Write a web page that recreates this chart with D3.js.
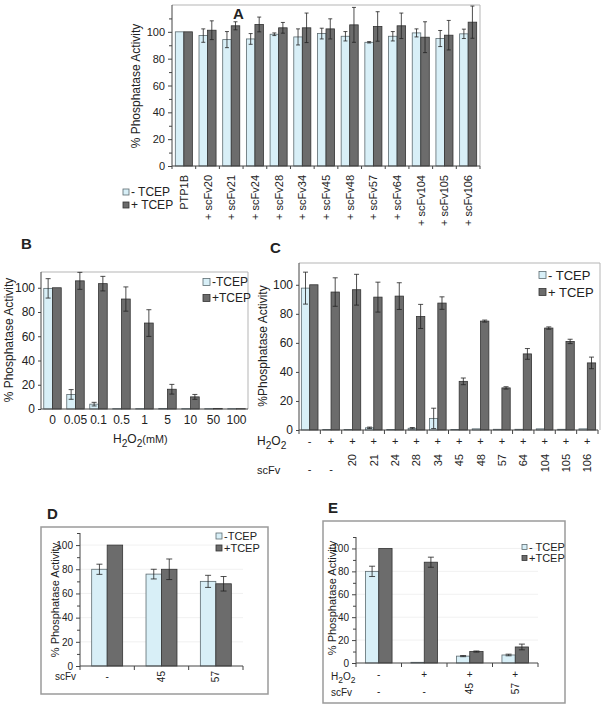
<!DOCTYPE html>
<html><head><meta charset="utf-8">
<script src="https://cdn.jsdelivr.net/npm/d3@7"></script>
<style>
body{margin:0;background:#fff}
svg{display:block}
text{font-family:"Liberation Sans",Arial,sans-serif;fill:#222}
</style>
</head><body>
<svg id="fig" width="605" height="707"></svg>
<script>
// ---------- Panel A data ----------
const aCats = ["PTP1B","+ scFv20","+ scFv21","+ scFv24","+ scFv28","+ scFv34","+ scFv45","+ scFv48","+ scFv57","+ scFv64","+ scFv104","+ scFv105","+ scFv106"];
const aMinus = [100,97.2,94.2,94.7,98.2,96.2,98.7,96.7,92.2,96.7,99.2,95,98.5];
const aMinusErr = [0,5,6,4,1,6,4,3.5,0.5,3.5,3,6,3.5];
const aPlus = [100,101.2,104.5,105.5,103,103,102.2,105.2,104,104.5,96,97.5,107.2];
const aPlusErr = [0,7,3,5.5,4,11,7.5,13,11,9.5,11.5,11,12];
const aTicks = [0,20,40,60,80,100];

// ---------- Panel B data ----------
const bCats = ["0","0.05","0.1","0.5","1","5","10","50","100"];
const bMinus = [99.5,12,4,0.3,0.3,0.5,0.3,0.3,0.3];
const bMinusErr = [8,4,1.5,0,0,0,0,0,0];
const bPlus = [100,105.7,103.4,90.7,70.9,16.3,10,0.5,0.3];
const bPlusErr = [0,7,6,10,11,4,2,0,0];
const bTicks = [0,20,40,60,80,100];

// ---------- Panel C data ----------
const cH2O2 = ["-","+","+","+","+","+","+","+","+","+","+","+","+","+"];
const cScfv = ["-","-","20","21","24","28","34","45","48","57","64","104","105","106"];
const cMinus = [97.7,0.3,0.3,1.5,0.3,1.2,8,0.3,0.8,0.5,0.5,0.8,0.5,0.8];
const cMinusErr = [11,0,0,0.5,0,0.5,7,0,0,0,0,0,0,0];
const cPlus = [100,95,96.6,91.5,92.2,78.2,87.4,33.5,75,29,52.4,70.2,61,46.2];
const cPlusErr = [0,9.8,10.6,10.3,9.2,8.3,4.3,2.3,0.7,0.8,3.7,0.8,1.5,4];
const cTicks = [0,20,40,60,80,100];

// ---------- Panel D data ----------
const dScfv = ["-","45","57"];
const dMinus = [80,76,70];
const dMinusErr = [4.2,4,5];
const dPlus = [100,80,68];
const dPlusErr = [0,8.5,6];
const dTicks = [0,20,40,60,80,100];

// ---------- Panel E data ----------
const eH2O2 = ["-","+","+","+"];
const eScfv = ["-","-","45","57"];
const eMinus = [80,0.6,6,7];
const eMinusErr = [4.5,0,0.5,0.7];
const ePlus = [100,88,10,14];
const ePlusErr = [0,4.4,0.5,2.5];
const eTicks = [0,20,40,60,80,100];

const legendLabels = {A:["- TCEP","+ TCEP"],B:["-TCEP","+TCEP"],C:["- TCEP","+ TCEP"],D:["-TCEP","+TCEP"],E:["- TCEP","+TCEP"]};

const LIGHT="#d8eff7", DARK="#6c6c6c", LSTROKE="#5d6b70", DSTROKE="#333";
const svg = d3.select("#fig");

function panel(o){
  const g = svg.append("g");
  const idx = d3.range(o.minus.length);
  const x = d3.scaleBand().domain(idx).range([o.x0,o.x1]).paddingInner(o.pad).paddingOuter(o.pad/2);
  const y = d3.scaleLinear().domain([0,o.ymax]).range([o.y0,o.y1]);
  if(o.box){
    g.append("path").attr("d",`M${o.x0},${o.y1}H${o.bx1}V${o.y0}`).attr("fill","none").attr("stroke","#b5b5b5").attr("stroke-width",1);
  }
  if(o.grid){
    g.selectAll(null).data(o.ticks.filter(t=>t>0)).join("line")
      .attr("x1",o.x0).attr("x2",o.x1).attr("y1",d=>y(d)).attr("y2",d=>y(d))
      .attr("stroke","#ededed").attr("stroke-width",0.8);
  }
  const bw = x.bandwidth()/2;
  const series = [[o.minus,o.minusErr,LIGHT,LSTROKE,0],[o.plus,o.plusErr,DARK,DSTROKE,1]];
  series.forEach(([vals,errs,fill,stroke,k])=>{
    g.selectAll(null).data(vals).join("rect")
      .attr("x",(d,i)=>x(i)+k*bw).attr("y",d=>y(d))
      .attr("width",bw).attr("height",d=>y(0)-y(d))
      .attr("fill",fill).attr("stroke",stroke).attr("stroke-width",0.8);
  });
  series.forEach(([vals,errs,fill,stroke,k])=>{
    const items = vals.map((v,i)=>({v,e:errs[i],i})).filter(d=>d.e>0);
    const cx = d=>x(d.i)+k*bw+bw/2;
    const cw = o.cap;
    g.selectAll(null).data(items).join("path")
      .attr("d",d=>`M${cx(d)},${y(d.v-d.e)}V${y(d.v+d.e)}M${cx(d)-cw},${y(d.v+d.e)}H${cx(d)+cw}M${cx(d)-cw},${y(d.v-d.e)}H${cx(d)+cw}`)
      .attr("stroke","#222").attr("stroke-width",0.8).attr("fill","none");
  });
  const ax = g.append("g").attr("transform",`translate(${o.x0},0)`)
    .call(d3.axisLeft(y).tickValues(o.ticks).tickSize(o.tick).tickSizeOuter(0).tickPadding(o.tpad||3));
  ax.select(".domain").remove();
  ax.selectAll("text").style("font-size",o.fs+"px").attr("fill","#222");
  ax.selectAll("line").attr("stroke","#444");
  if(o.minor){
    g.append("g").attr("transform",`translate(${o.x0},0)`)
      .call(d3.axisLeft(y).tickValues(d3.range(10,o.ymax+0.1,20)).tickSize(o.tick-1).tickFormat(""))
      .call(s=>{s.select(".domain").remove();s.selectAll("line").attr("stroke","#444");});
  }
  g.append("line").attr("x1",o.x0).attr("x2",o.x0).attr("y1",y(0)).attr("y2",o.y1).attr("stroke","#444");
  g.append("line").attr("x1",o.x0).attr("x2",o.x1).attr("y1",y(0)).attr("y2",y(0)).attr("stroke","#444");
  if(o.xticks){
    g.selectAll(null).data(d3.range(o.minus.length+1)).join("line")
      .attr("x1",i=>o.x0+i*x.step()).attr("x2",i=>o.x0+i*x.step())
      .attr("y1",y(0)).attr("y2",y(0)+o.xticks).attr("stroke","#444");
  }
  g.append("text").attr("transform",`translate(${o.ylx},${o.yly}) rotate(-90)`)
    .attr("text-anchor","middle").style("font-size",o.ylfs+"px").text(o.ylabel);
  o.leg.forEach((lab,k)=>{
    const ly = o.legy[k];
    g.append("rect").attr("x",o.legx).attr("y",ly-o.legs/2).attr("width",o.legs).attr("height",o.legs)
      .attr("fill",k?DARK:LIGHT).attr("stroke",k?DSTROKE:LSTROKE).attr("stroke-width",0.8);
    g.append("text").attr("x",o.legx+o.legs+2).attr("y",ly).attr("dy","0.36em")
      .style("font-size",o.legfs+"px").text(lab);
  });
  g.append("text").attr("x",o.lx).attr("y",o.ly).style("font-size","15px").style("font-weight","bold").text(o.letter);
  return {g,x,y};
}

function h2o2(sel,x,y,fs,suffix){
  const t = sel.append("text").attr("x",x).attr("y",y).style("font-size",fs+"px");
  t.append("tspan").text("H");
  t.append("tspan").attr("dy",fs*0.3).style("font-size",(fs*0.85)+"px").text("2");
  t.append("tspan").attr("dy",-fs*0.3).text("O");
  t.append("tspan").attr("dy",fs*0.3).style("font-size",(fs*0.85)+"px").text("2");
  if(suffix) t.append("tspan").attr("dy",-fs*0.3).style("font-size",(fs*0.9)+"px").text(suffix);
  return t;
}

// ===== Panel A =====
{
  const r = panel({letter:"A",lx:233,ly:19,minus:aMinus,minusErr:aMinusErr,plus:aPlus,plusErr:aPlusErr,
    x0:172,x1:480,bx1:480,y0:166,y1:5,ymax:120,pad:0.28,ticks:aTicks,minor:true,tick:4,fs:11,cap:2,
    box:true,xticks:3,ylabel:"% Phosphatase Activity",ylx:140,yly:86,ylfs:12,
    leg:legendLabels.A,legx:123,legy:[192,205],legs:6,legfs:12});
  r.g.selectAll(null).data(aCats).join("text")
    .attr("transform",(d,i)=>`translate(${r.x(i)+r.x.bandwidth()/2+4},175) rotate(-90)`)
    .attr("text-anchor","end").style("font-size","11px").text(d=>d);
}
// ===== Panel B =====
{
  const r = panel({letter:"B",lx:21,ly:249,minus:bMinus,minusErr:bMinusErr,plus:bPlus,plusErr:bPlusErr,
    x0:41,x1:248,bx1:248,y0:409,y1:272,ymax:113,pad:0.24,ticks:bTicks,minor:false,tick:3,fs:12,cap:2.5,
    box:true,ylabel:"% Phosphatase Activity",ylx:13,yly:340,ylfs:12,
    leg:legendLabels.B,legx:203,legy:[282,298],legs:7,legfs:12});
  r.g.selectAll(null).data(bCats).join("text")
    .attr("x",(d,i)=>r.x(i)+r.x.bandwidth()/2).attr("y",424).attr("text-anchor","middle")
    .style("font-size","12px").text(d=>d);
  h2o2(r.g,113,443,12,"(mM)");
}
// ===== Panel C =====
{
  const r = panel({letter:"C",lx:270,ly:253,minus:cMinus,minusErr:cMinusErr,plus:cPlus,plusErr:cPlusErr,
    x0:299,x1:598,bx1:600,y0:430,y1:263,ymax:115,pad:0.22,ticks:cTicks,minor:false,tick:3,fs:12,cap:2.5,
    box:true,xticks:4,ylabel:"%Phosphatase Activity",ylx:267,yly:346,ylfs:12,
    leg:legendLabels.C,legx:539,legy:[275,292],legs:7,legfs:13});
  const cx = i=>r.x(i)+r.x.bandwidth()/2;
  h2o2(r.g,257,445,12);
  r.g.append("text").attr("x",257).attr("y",474).style("font-size","11px").text("scFv");
  r.g.selectAll(null).data(cH2O2).join("text").attr("x",(d,i)=>cx(i)).attr("y",445)
    .attr("text-anchor","middle").style("font-size","11px").text(d=>d);
  r.g.selectAll(null).data(cScfv).join("text")
    .attr("transform",(d,i)=>d==="-"?`translate(${cx(i)},473)`:`translate(${cx(i)+4},454) rotate(-90)`)
    .attr("text-anchor",d=>d==="-"?"middle":"end").style("font-size","11px").text(d=>d);
}
// ===== Panel D =====
{
  svg.append("rect").attr("x",41).attr("y",527).attr("width",227).attr("height",167)
    .attr("fill","none").attr("stroke","#9a9a9a").attr("stroke-width",1.5);
  const r = panel({letter:"D",lx:47,ly:519,minus:dMinus,minusErr:dMinusErr,plus:dPlus,plusErr:dPlusErr,
    x0:80,x1:243,y0:666,y1:533,ymax:110,pad:0.43,ticks:dTicks,minor:true,tick:4,fs:10,cap:3,grid:true,
    xticks:4,ylabel:"% Phosphatase Activity",ylx:59,yly:600,ylfs:11,
    leg:legendLabels.D,legx:216,legy:[536,548],legs:6,legfs:11});
  const cx = i=>r.x(i)+r.x.bandwidth()/2;
  r.g.append("text").attr("x",55).attr("y",680).style("font-size","10px").text("scFv");
  r.g.selectAll(null).data(dScfv).join("text")
    .attr("transform",(d,i)=>d==="-"?`translate(${cx(i)},680)`:`translate(${cx(i)+3},671) rotate(-90)`)
    .attr("text-anchor",d=>d==="-"?"middle":"end").style("font-size","10px").text(d=>d);
}
// ===== Panel E =====
{
  svg.append("rect").attr("x",323).attr("y",521).attr("width",242).attr("height",182)
    .attr("fill","none").attr("stroke","#9a9a9a").attr("stroke-width",1.5);
  const r = panel({letter:"E",lx:328,ly:513,minus:eMinus,minusErr:eMinusErr,plus:ePlus,plusErr:ePlusErr,
    x0:356,x1:538,y0:663,y1:537,ymax:110,pad:0.415,ticks:eTicks,minor:true,tick:4,fs:10,cap:3,grid:true,
    xticks:4,ylabel:"% Phosphatase Activity",ylx:336,yly:598,ylfs:11,
    leg:legendLabels.E,legx:522,legy:[547,558],legs:5,legfs:11});
  const cx = i=>r.x(i)+r.x.bandwidth()/2;
  h2o2(r.g,331,680,10);
  r.g.append("text").attr("x",331).attr("y",696).style("font-size","10px").text("scFv");
  r.g.selectAll(null).data(eH2O2).join("text").attr("x",(d,i)=>cx(i)).attr("y",678)
    .attr("text-anchor","middle").style("font-size","10px").text(d=>d);
  r.g.selectAll(null).data(eScfv).join("text")
    .attr("transform",(d,i)=>d==="-"?`translate(${cx(i)},695)`:`translate(${cx(i)+3.5},683) rotate(-90)`)
    .attr("text-anchor",d=>d==="-"?"middle":"end").style("font-size","10px").text(d=>d);
}
</script>
</body></html>
